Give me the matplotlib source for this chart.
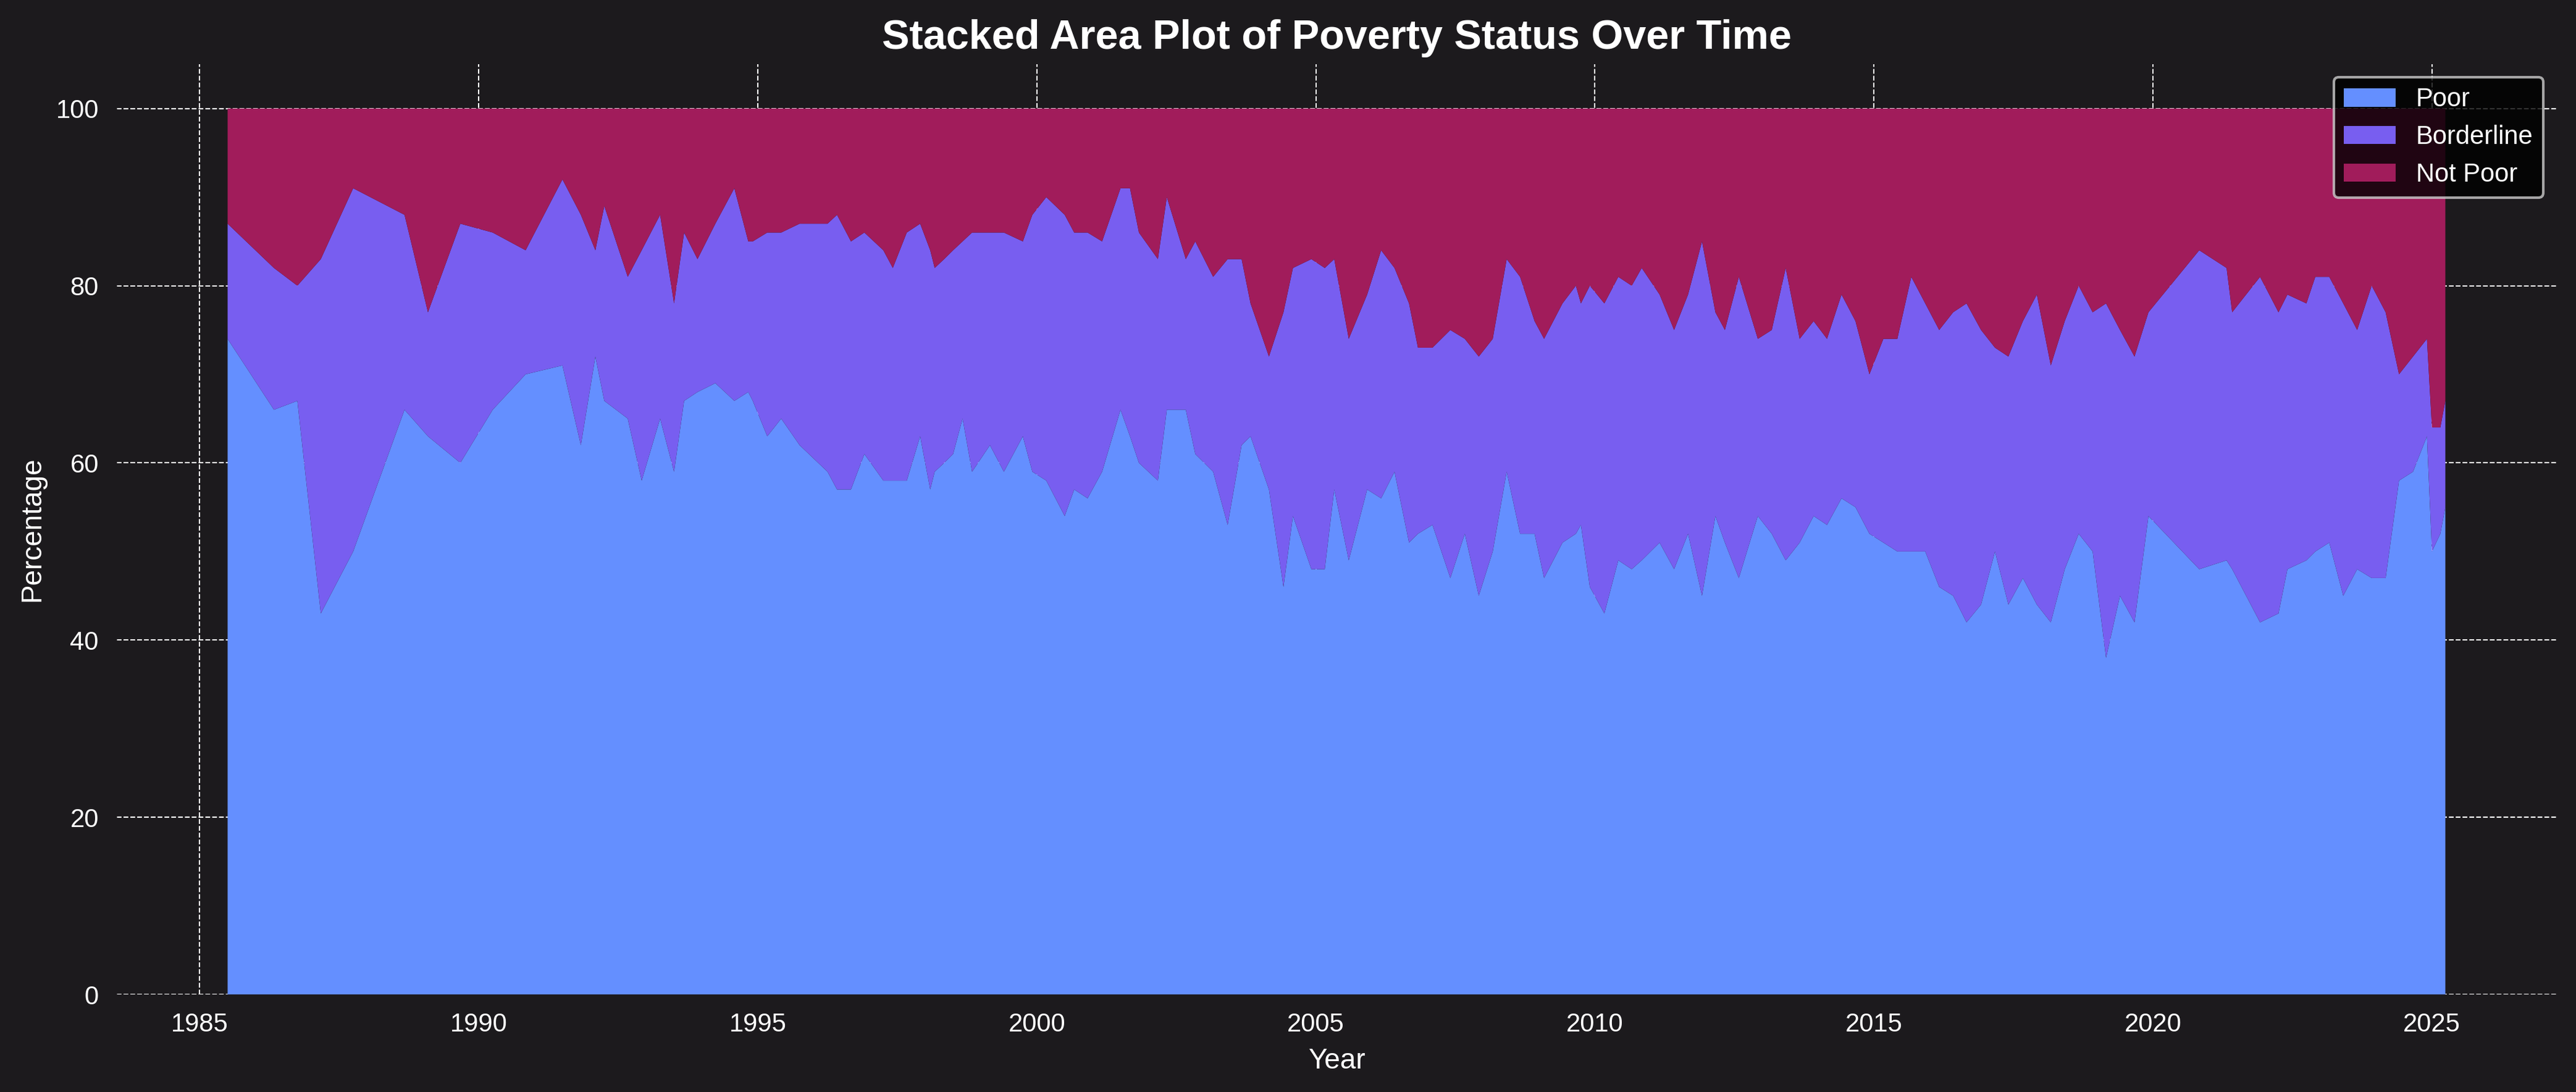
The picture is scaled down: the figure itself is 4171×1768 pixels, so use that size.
import matplotlib
matplotlib.use("Agg")
import matplotlib.pyplot as plt

# data (fractional years, percentages)
years = [1985.50, 1986.33, 1986.75, 1987.17, 1987.75, 1988.67, 1989.09, 1989.67, 1990.25, 1990.84,
         1991.50, 1991.83, 1992.09, 1992.25, 1992.67, 1992.92, 1993.25, 1993.50, 1993.68, 1993.92,
         1994.24, 1994.58, 1994.83, 1994.91, 1995.17, 1995.42, 1995.75, 1996.25, 1996.42, 1996.67,
         1996.91, 1997.25, 1997.42, 1997.67, 1997.91, 1998.09, 1998.17, 1998.34, 1998.50, 1998.67,
         1998.84, 1999.16, 1999.41, 1999.75, 1999.92, 2000.17, 2000.50, 2000.67, 2000.91, 2001.17,
         2001.50, 2001.67, 2001.83, 2002.17, 2002.33, 2002.67, 2002.84, 2003.16, 2003.42, 2003.67,
         2003.83, 2004.16, 2004.42, 2004.59, 2004.92, 2005.16, 2005.33, 2005.59, 2005.92, 2006.17,
         2006.41, 2006.67, 2006.83, 2007.09, 2007.41, 2007.67, 2007.92, 2008.17, 2008.42, 2008.66,
         2008.92, 2009.09, 2009.42, 2009.66, 2009.75, 2009.91, 2010.17, 2010.42, 2010.66, 2010.84,
         2011.16, 2011.42, 2011.67, 2011.92, 2012.16, 2012.33, 2012.58, 2012.92, 2013.17, 2013.42,
         2013.67, 2013.92, 2014.16, 2014.42, 2014.67, 2014.92, 2015.17, 2015.42, 2015.67, 2015.92,
         2016.17, 2016.42, 2016.66, 2016.92, 2017.17, 2017.41, 2017.67, 2017.92, 2018.17, 2018.42,
         2018.67, 2018.92, 2019.16, 2019.41, 2019.67, 2019.92, 2020.83, 2021.32, 2021.42, 2021.92,
         2022.25, 2022.41, 2022.75, 2022.91, 2023.16, 2023.41, 2023.66, 2023.92, 2024.17, 2024.41,
         2024.66, 2024.91, 2025.00, 2025.15, 2025.24]

poor = [74, 66, 67, 43, 50, 66, 63, 60, 66, 70,
        71, 62, 72, 67, 65, 58, 65, 59, 67, 68,
        69, 67, 68, 67, 63, 65, 62, 59, 57, 57,
        61, 58, 58, 58, 63, 57, 59, 60, 61, 65,
        59, 62, 59, 63, 59, 58, 54, 57, 56, 59,
        66, 63, 60, 58, 66, 66, 61, 59, 53, 62,
        63, 57, 46, 54, 48, 48, 57, 49, 57, 56,
        59, 51, 52, 53, 47, 52, 45, 50, 59, 52,
        52, 47, 51, 52, 53, 46, 43, 49, 48, 49,
        51, 48, 52, 45, 54, 51, 47, 54, 52, 49,
        51, 54, 53, 56, 55, 52, 51, 50, 50, 50,
        46, 45, 42, 44, 50, 44, 47, 44, 42, 48,
        52, 50, 38, 45, 42, 54, 48, 49, 48, 42,
        43, 48, 49, 50, 51, 45, 48, 47, 47, 58,
        59, 63, 50, 52, 55]

borderline = [13, 16, 13, 40, 41, 22, 14, 27, 20, 14,
              21, 26, 12, 22, 16, 26, 23, 19, 19, 15,
              18, 24, 17, 18, 23, 21, 25, 28, 31, 28,
              25, 26, 24, 28, 24, 27, 23, 23, 23, 20,
              27, 24, 27, 22, 29, 32, 34, 29, 30, 26,
              25, 28, 26, 25, 24, 17, 24, 22, 30, 21,
              15, 15, 31, 28, 35, 34, 26, 25, 22, 28,
              23, 27, 21, 20, 28, 22, 27, 24, 24, 29,
              24, 27, 27, 28, 25, 34, 35, 32, 32, 33,
              28, 27, 27, 40, 23, 24, 34, 20, 23, 33,
              23, 22, 21, 23, 21, 18, 23, 24, 31, 28,
              29, 32, 36, 31, 23, 28, 29, 35, 29, 28,
              28, 27, 40, 30, 30, 23, 36, 33, 29, 39,
              34, 31, 29, 31, 30, 33, 27, 33, 30, 12,
              13, 11, 14, 12, 12]

not_poor = [13, 18, 20, 17, 9, 12, 23, 13, 14, 16,
            8, 12, 16, 11, 19, 16, 12, 22, 14, 17,
            13, 9, 15, 15, 14, 14, 13, 13, 12, 15,
            14, 16, 18, 14, 13, 16, 18, 17, 16, 15,
            14, 14, 14, 15, 12, 10, 12, 14, 14, 15,
            9, 9, 14, 17, 10, 17, 15, 19, 17, 17,
            22, 28, 23, 18, 17, 18, 17, 26, 21, 16,
            18, 22, 27, 27, 25, 26, 28, 26, 17, 19,
            24, 26, 22, 20, 22, 20, 22, 19, 20, 18,
            21, 25, 21, 15, 23, 25, 19, 26, 25, 18,
            26, 24, 26, 21, 24, 30, 26, 26, 19, 22,
            25, 23, 22, 25, 27, 28, 24, 21, 29, 24,
            20, 23, 22, 25, 28, 23, 16, 18, 23, 19,
            23, 21, 22, 19, 19, 22, 25, 20, 23, 30,
            28, 26, 36, 36, 33]

labels = ["Poor", "Borderline", "Not Poor"]
colors = ["#648fff", "#785ef0", "#a11c5b"]
bg = "#1c1a1d"

plt.rcParams['font.family'] = ['Liberation Sans', 'DejaVu Sans']

fig = plt.figure(figsize=(4171 / 300, 1768 / 300), dpi=300, facecolor=bg)
ax = fig.add_axes([189 / 4171, 158 / 1768, (4139 - 189) / 4171, (1610 - 104) / 1768])
ax.set_facecolor(bg)

ax.stackplot(years, poor, borderline, not_poor, labels=labels, colors=colors)

ax.set_ylim(0, 105)
ax.grid(True, color="white", linestyle="--", linewidth=0.5)
ax.set_axisbelow(True)
for s in ax.spines.values():
    s.set_visible(False)

ax.tick_params(colors=bg, labelcolor="white", labelsize=10)
ax.set_xlabel("Year", color="white", fontsize=11)
ax.set_ylabel("Percentage", color="white", fontsize=11)
ax.set_title("Stacked Area Plot of Poverty Status Over Time", color="white",
             fontsize=16, fontweight="bold")

leg = ax.legend(loc="upper right", facecolor="black", edgecolor="0.8", fontsize=10)
for t in leg.get_texts():
    t.set_color("white")

fig.savefig("out.png", dpi=300, facecolor=bg)
